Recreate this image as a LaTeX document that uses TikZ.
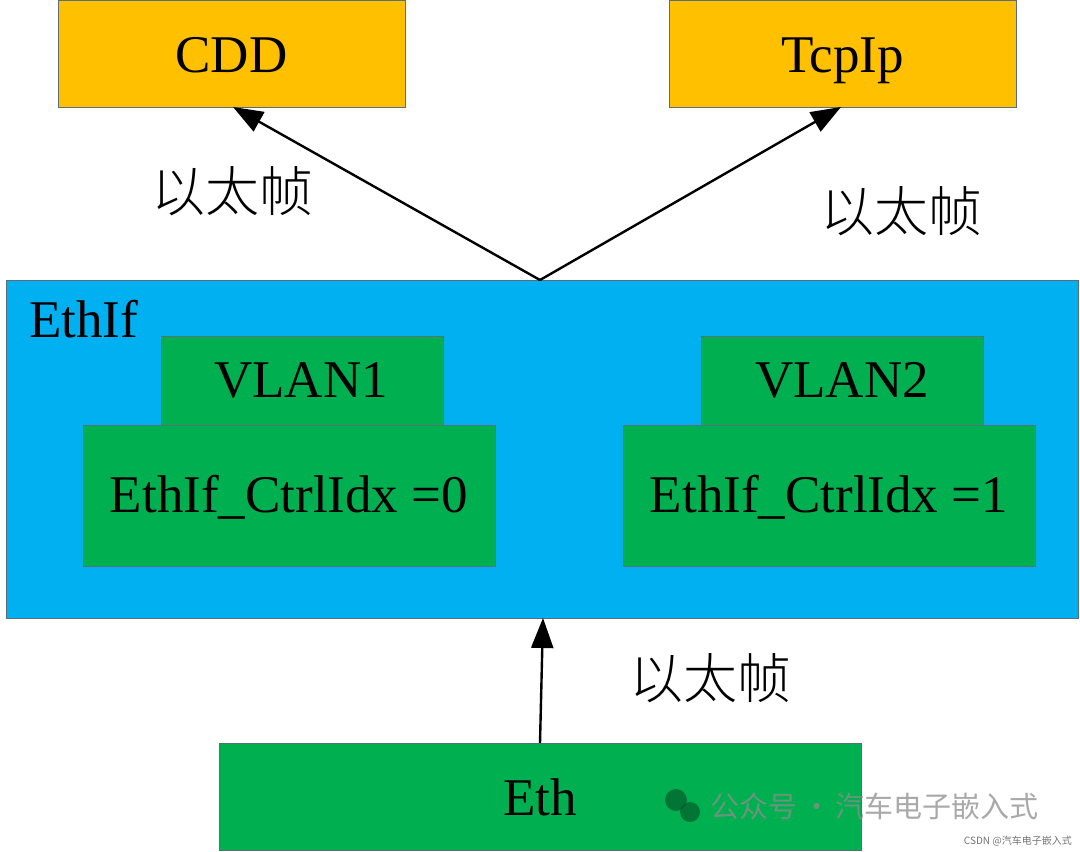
\documentclass[tikz,border=0pt]{standalone}
\usepackage{fontspec}
\setmainfont{Liberation Serif}
\newfontfamily\cjk{Noto Sans CJK SC Light}
\newfontfamily\cjkwm{Noto Sans CJK SC}
\definecolor{yel}{HTML}{FFC000}
\definecolor{blu}{HTML}{00B0F0}
\definecolor{grn}{HTML}{00B050}
\definecolor{edge}{HTML}{5A6E7A}
\usetikzlibrary{arrows.meta}
\tikzset{
  boxstyle/.style={draw=edge, line width=0.8pt},
  lbl/.style={font=\fontsize{53}{60}\selectfont, inner sep=0pt, anchor=base},
  cjklbl/.style={font=\cjk\fontsize{54}{60}\selectfont, inner sep=0pt},
  arr/.style={line width=2.4pt, -{Triangle[length=30pt,width=22pt]}},
}
\begin{document}
\begin{tikzpicture}[x=1pt,y=-1pt]
\useasboundingbox (0,0) rectangle (1080,852);
% top boxes
\filldraw[boxstyle, fill=yel] (58,0) rectangle (405,107);
\node[lbl] (cdd) at (231.5,72) {CDD};
\filldraw[boxstyle, fill=yel] (669,0) rectangle (1016,107);
\node[lbl] (tcp) at (842.5,72) {TcpIp};
\coordinate (cddb) at (233,107);
\coordinate (tcpb) at (841,107);
% EthIf
\filldraw[boxstyle, fill=blu] (6,280) rectangle (1078,618);
\node[lbl, anchor=base west] (ethif) at (29,337) {EthIf};
\coordinate (ethiftop) at (540,280);
\coordinate (ethifbot) at (543,618);
% VLAN1 + Ctrl0
\filldraw[boxstyle, fill=grn] (161,336) rectangle (443,425);
\node[lbl] (v1) at (301,397) {VLAN1};
\filldraw[boxstyle, fill=grn] (83,425) rectangle (495,566);
\node[lbl] (c0) at (289,512) {EthIf\_CtrlIdx =0};
% VLAN2 + Ctrl1
\filldraw[boxstyle, fill=grn] (701,336) rectangle (983,425);
\node[lbl] (v2) at (842,397) {VLAN2};
\filldraw[boxstyle, fill=grn] (623,425) rectangle (1035,566);
\node[lbl] (c1) at (829,512) {EthIf\_CtrlIdx =1};
% Eth
\filldraw[boxstyle, fill=grn] (219,743) rectangle (861,850);
\node[lbl] (eth) at (540,815) {Eth};
\coordinate (etht) at (540,743);
% arrows
\draw[arr] (ethiftop) -- (cddb);
\draw[arr] (ethiftop) -- (tcpb);
\draw[arr] (etht) -- (ethifbot);
% labels
\node[cjklbl] (l1) at (232,191) {以太帧};
\node[cjklbl] (l2) at (901,211) {以太帧};
\node[cjklbl] (l3) at (710,678) {以太帧};
% watermark
\fill[black!55!grn, opacity=0.6] (676,800) circle (11pt);
\fill[black!55!grn, opacity=0.6] (690,812) circle (10pt);
\node[font=\cjkwm\fontsize{29}{32}\selectfont, text=black!45, opacity=0.75, anchor=west, inner sep=0pt] (wm) at (710,806) {公众号\,·\,汽车电子嵌入式};
\node[font=\cjkwm\fontsize{10}{12}\selectfont, text=black!55, anchor=east, inner sep=0pt] (csdn) at (1072,841) {CSDN @汽车电子嵌入式};
\end{tikzpicture}
\end{document}
